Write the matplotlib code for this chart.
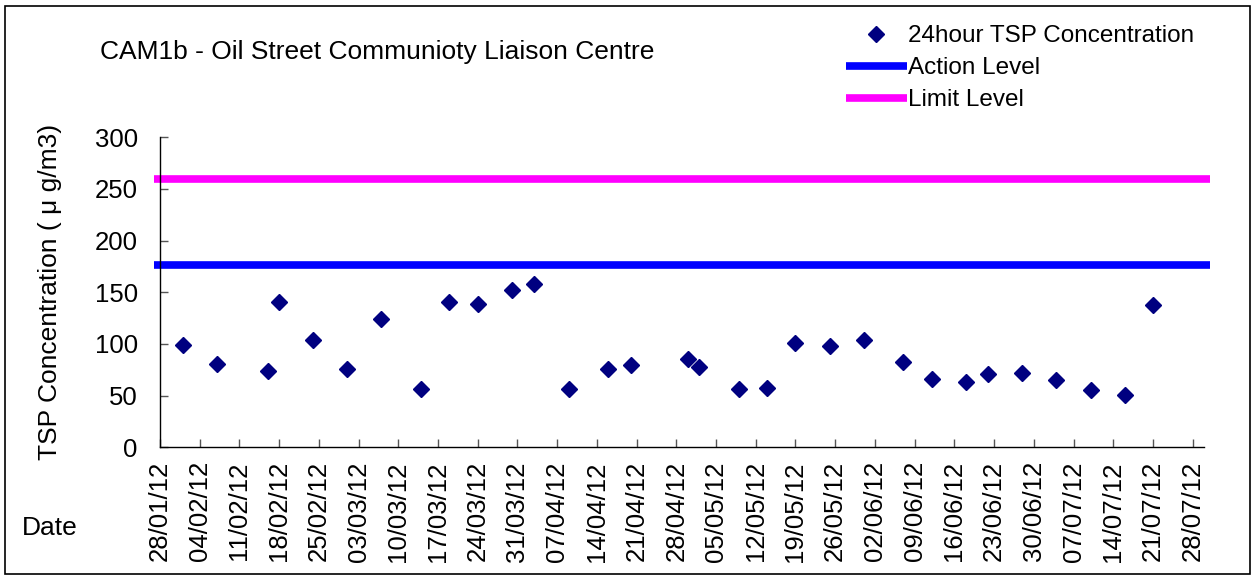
import matplotlib
matplotlib.use("Agg")
import matplotlib.pyplot as plt
import matplotlib.dates as mdates
import numpy as np
import pandas as pd
from matplotlib.patches import Rectangle

plt.rcParams["font.family"] = ["Liberation Sans", "DejaVu Sans"]

sample_dates = [
    "2012-02-01", "2012-02-07", "2012-02-16", "2012-02-18", "2012-02-24",
    "2012-03-01", "2012-03-07", "2012-03-14", "2012-03-19", "2012-03-24",
    "2012-03-30", "2012-04-03", "2012-04-09", "2012-04-16", "2012-04-20",
    "2012-04-30", "2012-05-02", "2012-05-09", "2012-05-14", "2012-05-19",
    "2012-05-25", "2012-05-31", "2012-06-07", "2012-06-12", "2012-06-18",
    "2012-06-22", "2012-06-28", "2012-07-04", "2012-07-10", "2012-07-16",
    "2012-07-21",
]
tsp_values = [
    99, 81, 74, 141, 104, 76, 124, 56, 141, 139,
    152, 158, 56, 76, 80, 85, 78, 56, 57, 101,
    98, 104, 83, 66, 63, 71, 72, 65, 55, 51,
    138,
]
level_dates = ["2012-01-27", "2012-07-31"]
action_level = [176, 176]
limit_level = [260, 260]
x_start, x_end = "2012-01-28", "2012-07-30"

dates = pd.to_datetime(sample_dates)
level_x = pd.to_datetime(level_dates)

fig = plt.figure(figsize=(12.57, 5.76), dpi=100)
ax = fig.add_axes([160 / 1257, 128.7 / 576, (1204 - 160) / 1257, (447.3 - 137.3) / 576])

ax.plot(level_x, limit_level, color="#ff00ff", linewidth=5.5, clip_on=False,
        solid_capstyle="butt", label="Limit Level", zorder=2)
ax.plot(level_x, action_level, color="#0000ff", linewidth=5.5, clip_on=False,
        solid_capstyle="butt", label="Action Level", zorder=2)
ax.plot(dates, tsp_values, linestyle="none", marker="D", markersize=8,
        color="#000080", label="24hour TSP Concentration", zorder=3)

ax.set_xlim(pd.Timestamp(x_start), pd.Timestamp(x_end))
ax.set_ylim(0, 300)
ax.set_yticks(np.arange(0, 301, 50))
ticks = pd.date_range(x_start, "2012-07-28", freq="7D")
ax.set_xticks(ticks)
ax.xaxis.set_major_formatter(mdates.DateFormatter("%d/%m/%y"))

for side in ("top", "right"):
    ax.spines[side].set_visible(False)
for side in ("left", "bottom"):
    ax.spines[side].set_linewidth(1.0)
    ax.spines[side].set_color("black")

ax.tick_params(axis="y", direction="in", length=6, width=1, colors="#555555",
               labelcolor="black", labelsize=18.5, pad=16)
ax.tick_params(axis="x", direction="in", length=6, width=1, colors="#555555",
               labelcolor="black", labelsize=18.5, pad=10, labelrotation=90)

fig.text(100 / 1257, 1 - 52 / 576, "CAM1b - Oil Street Communioty Liaison Centre",
         fontsize=19, ha="left", va="center")
fig.text(50 / 1257, 1 - 292 / 576, "TSP Concentration ( \u03bc g/m3)",
         fontsize=19, rotation=90, ha="center", va="center")
fig.text(22 / 1257, 1 - 528 / 576, "Date", fontsize=19, ha="left", va="center")

handles, labels = ax.get_legend_handles_labels()
order = [2, 1, 0]
fig.legend([handles[i] for i in order], [labels[i] for i in order],
           loc="upper left", bbox_to_anchor=(846 / 1257, 1 - 25 / 576),
           frameon=False, fontsize=17.5, handlelength=2.5, handletextpad=0.05,
           labelspacing=0.42, borderaxespad=0, borderpad=0)

fig.patches.append(Rectangle((5 / 1257, 2 / 576), 1245 / 1257, 568 / 576,
                             transform=fig.transFigure, fill=False,
                             edgecolor="black", linewidth=1.2))

fig.savefig("out.png", dpi=100)
